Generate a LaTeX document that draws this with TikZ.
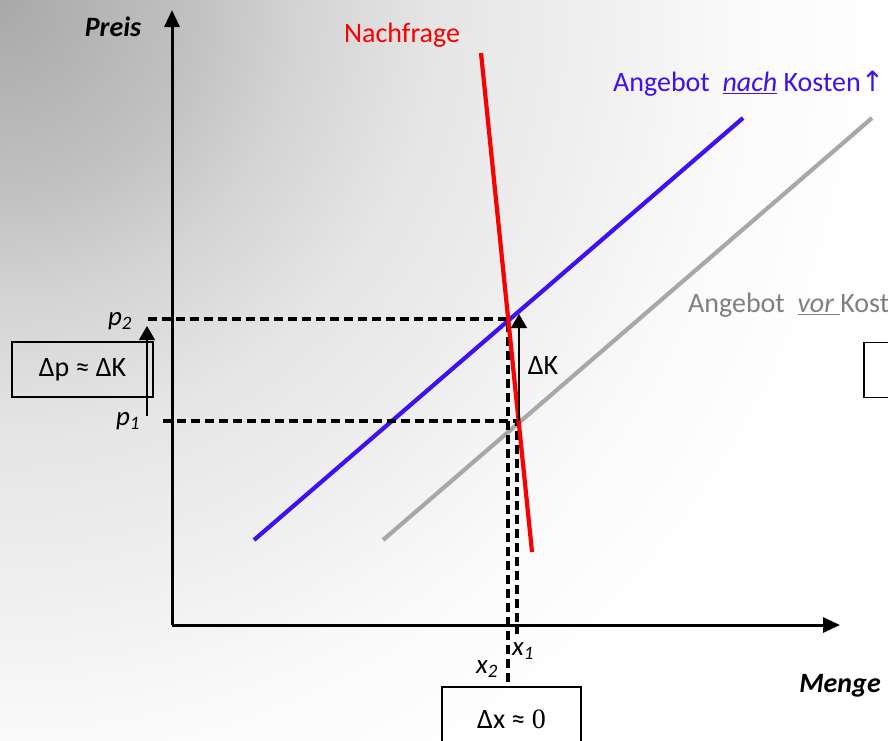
\documentclass[tikz,border=0pt]{standalone}
\usepackage{fontspec}
\setmainfont{Carlito}
\newfontfamily\symfont{DejaVu Sans}
\newfontfamily\numfont{Liberation Serif}
\usetikzlibrary{arrows.meta}
\definecolor{demandred}{RGB}{250,0,0}
\definecolor{supplyblue}{RGB}{64,16,240}
\definecolor{supplygray}{RGB}{168,168,168}
\definecolor{labelgray}{RGB}{128,128,128}
\pgfdeclareradialshading{bgshade}{\pgfpoint{0bp}{0bp}}{color(0bp)=(black!34); color(5.5bp)=(black!24); color(8.3bp)=(black!17); color(12.2bp)=(black!10); color(16.7bp)=(black!6); color(20.5bp)=(black!2); color(25bp)=(white); color(50bp)=(white)}
\tikzset{
    axis/.style = {line width=3pt, -{Triangle[length=17pt, width=15pt]}},
    guide/.style = {line width=3.2pt, dash pattern=on 9pt off 5pt},
    rise/.style = {line width=1.4pt, -{Triangle[length=14pt, width=16pt]}},
    curve/.style = {line width=4.2pt},
    big/.style = {font=\fontsize{28}{30}\selectfont, inner sep=0pt},
    small/.style = {font=\fontsize{27}{29}\selectfont, inner sep=0pt},
    valbox/.style = {draw, line width=1.3pt, inner sep=0pt, font=\fontsize{28}{30}\selectfont}
}

\begin{document}
\begin{tikzpicture}[x=1pt, y=-1pt]
\useasboundingbox (0,0) rectangle (888,740);
\clip (0,0) rectangle (888,740);
% Background
\shade[shading=bgshade] (-900,-900) rectangle (900,900);

% Axes
\coordinate (O) at (172,625);
\coordinate (ytop) at (172,10);
\coordinate (xend) at (840,625);
\draw[axis] (O) -- (ytop);
\draw[axis] (O) -- (xend);
\node[big, font=\fontsize{28}{30}\selectfont\bfseries\itshape] (preis) at (113,27) {Preis};
\node[big, font=\fontsize{28}{30}\selectfont\bfseries\itshape] (menge) at (840,686) {Menge};

% Curves
\coordinate (d1) at (481,53);
\coordinate (d2) at (532,552);
\coordinate (s1a) at (254,540);
\coordinate (s1b) at (743,118);
\coordinate (s0a) at (383,540);
\coordinate (s0b) at (872,118);
\draw[curve, supplygray] (s0a) -- (s0b);
\draw[curve, supplyblue] (s1a) -- (s1b);

% Equilibria
\coordinate (e2) at (508,319);
\coordinate (e1) at (517,421);
\coordinate (p2) at (148,319);
\coordinate (p1) at (163,421);
\coordinate (x2) at (508,686);
\coordinate (x1) at (517,634);
\draw[guide] (p2) -- (e2) -- (x2);
\draw[guide] (p1) -- (e1) -- (x1);
\draw[curve, demandred] (d1) -- (d2);

% Labels
\node[big, text=demandred] (nachfrage) at (402,35) {Nachfrage};
\node[big, text=supplyblue, anchor=west] (nach) at (613,84) {Angebot\ \ \underline{\textit{nach}}\ Kosten{\symfont ↑}};
\node[big, text=labelgray, anchor=west] (vor) at (688,305) {Angebot\ \ \underline{\textit{vor\ }}Kosten};
\node[small] (lp2) at (120,321) {\textit{p}\textsubscript{\textit{2}}};
\node[small] (lp1) at (128,421) {\textit{p}\textsubscript{\textit{1}}};
\node[small] (lx1) at (523,651) {\textit{x}\textsubscript{\textit{1}}};
\node[small] (lx2) at (487,669) {\textit{x}\textsubscript{\textit{2}}};

% Cost shift
\coordinate (k1) at (519,421);
\coordinate (k2) at (519,314);
\draw[rise] (k1) -- (k2);
\node[big] (dk) at (543,366) {ΔK};
\node[valbox, minimum width=141pt, minimum height=55pt] (dp) at (82.5,369.5) {Δp ≈ ΔK};
\coordinate (a1) at (147,416);
\coordinate (a2) at (147,326);
\draw[rise] (a1) -- (a2);
\node[valbox, minimum width=139pt, minimum height=64pt] (dx) at (511.5,719) {Δx ≈ {\numfont 0}};
\node[valbox, minimum width=141pt, minimum height=55pt] (rbox) at (934.5,370) {};
\end{tikzpicture}
\end{document}
